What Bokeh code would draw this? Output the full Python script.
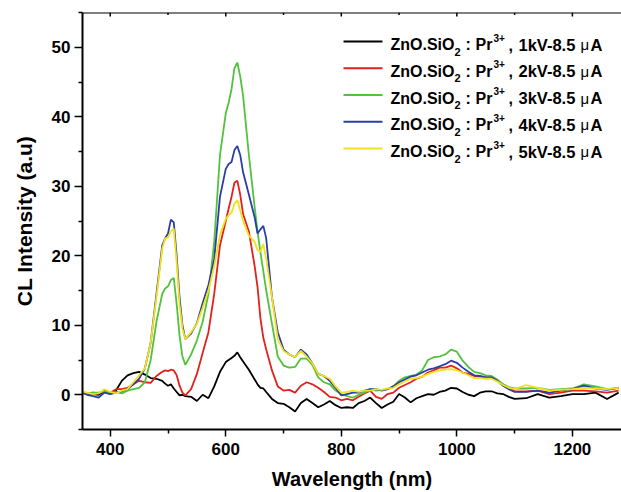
from bokeh.plotting import figure
from bokeh.models import Range1d, Label, FixedTicker, Span
from bokeh.embed import file_html
from bokeh.resources import INLINE

# ---------------- data ----------------
wavelength = [350, 360, 370, 380, 390, 400, 410, 420, 430, 440, 450, 460, 470, 480, 490,
              495, 500, 505, 510, 515, 520, 525, 530, 540, 550, 560, 570, 580, 590, 600,
              605, 610, 615, 620, 625, 630, 640, 650, 655, 660, 665, 670, 680, 690, 700,
              710, 720, 730, 740, 750, 760, 770, 780, 790, 800, 810, 820, 830, 840, 850,
              860, 870, 880, 890, 900, 910, 920, 930, 940, 950, 960, 970, 980, 990, 1000,
              1010, 1020, 1030, 1040, 1050, 1060, 1070, 1080, 1090, 1100, 1120, 1140, 1160,
              1180, 1200, 1220, 1240, 1260, 1280]

cl_1kV = [0.4, 0.2, 0.1, 0.0, 0.5, 0.2, 0.6, 2.0, 2.8, 3.1, 3.3, 2.9, 2.4, 2.3, 2.0,
          1.6, 1.3, 1.5, 0.9, 0.4, -0.1, 0.0, -0.2, -0.3, -0.9, 0.0, -0.5, 1.2, 3.3, 4.7,
          5.0, 5.3, 5.6, 6.1, 5.4, 4.8, 3.6, 2.2, 1.5, 1.0, 0.9, 0.4, -0.6, -1.2, -1.3,
          -1.8, -2.4, -1.2, -0.6, -1.2, -1.8, -1.4, -0.9, -1.5, -1.9, -1.8, -1.9, -1.2, -0.9, -0.4,
          -1.2, -1.9, -1.4, -1.0, 0.1, -0.4, -1.1, -0.5, -0.2, 0.1, 0.0, 0.4, 0.6, 1.0, 0.9,
          0.4, 0.0, -0.2, 0.3, 0.5, 0.5, 0.2, 0.1, -0.3, -0.6, -0.5, 0.1, -0.4,
          -0.2, 0.1, 0.1, 0.3, -0.6, 0.3]

cl_2kV = [0.3, 0.2, 0.3, 0.2, 0.6, 0.3, 0.8, 0.8, 1.0, 1.5, 2.0, 1.8, 1.7, 2.7, 3.3,
          3.5, 3.4, 3.6, 3.5, 2.8, 1.3, 0.3, -0.1, 0.8, 3.0, 6.0, 9.0, 14.5, 21.5, 25.0,
          26.8, 28.5, 30.5, 30.8, 28.8, 26.0, 23.5, 18.5, 15.5, 11.0, 8.2, 6.5, 3.5, 1.2, 0.6,
          0.7, 0.3, 1.3, 1.8, 1.5, 1.0, 0.4, -0.3, -0.4, -0.8, -0.6, -0.8, -0.3, 0.2, 0.6,
          -0.3, -0.6, 0.1, 0.3, 1.0, 1.4, 1.8, 2.3, 2.6, 3.2, 3.5, 3.9, 3.9, 4.2, 3.8,
          3.2, 3.0, 2.7, 2.6, 2.5, 2.5, 2.0, 1.5, 1.0, 0.5, 0.5, 0.6, 0.1,
          0.3, 0.6, 0.6, 0.5, 0.3, 0.6]

cl_3kV = [0.4, 0.2, 0.3, 0.3, 0.5, 0.2, 0.4, 0.2, 0.6, 0.8, 1.0, 1.8, 5.0, 10.5, 14.5,
          15.3, 15.6, 16.5, 16.8, 13.0, 8.5, 5.5, 4.3, 5.8, 7.8, 10.5, 14.5, 22.0, 34.5, 40.5,
          42.0, 44.0, 47.0, 47.8, 45.8, 43.0, 34.5, 27.0, 23.5, 20.5, 17.8, 15.0, 10.2, 5.5, 4.2,
          3.9, 4.0, 5.2, 5.2, 4.3, 2.5, 1.8, 1.5, 0.6, 0.1, -0.2, -0.4, 0.0, 0.3, 0.8,
          0.6, 0.7, 0.8, 1.2, 2.0, 2.5, 2.7, 2.9, 3.5, 5.0, 5.4, 5.5, 5.8, 6.5, 6.2,
          4.9, 4.0, 3.3, 3.1, 2.8, 2.7, 2.2, 1.5, 1.1, 0.9, 0.9, 1.0, 0.7,
          0.8, 0.9, 1.5, 1.2, 0.8, 1.0]

cl_4kV = [0.3, 0.0, -0.2, -0.4, 0.3, 0.1, 0.3, 0.5, 0.8, 1.5, 2.3, 3.8, 7.5, 14.5, 21.5,
          22.5, 23.2, 25.2, 24.8, 20.0, 14.0, 10.0, 8.0, 8.8, 10.3, 13.2, 15.8, 19.5, 28.5, 32.5,
          33.2, 33.5, 35.2, 35.8, 34.5, 32.0, 28.8, 25.5, 23.2, 23.8, 24.3, 22.5, 14.0, 9.0, 6.5,
          5.8, 5.4, 6.5, 5.8, 4.5, 3.0, 2.7, 2.0, 1.0, -0.1, 0.1, 0.3, 0.3, 0.6, 0.8,
          0.8, 0.6, 0.8, 1.2, 1.8, 2.2, 2.6, 2.8, 3.2, 3.6, 3.8, 4.1, 4.4, 4.9, 4.6,
          3.9, 3.3, 2.8, 2.7, 2.5, 2.5, 2.0, 1.3, 0.8, 0.4, 0.4, 0.6, 0.3,
          0.6, 0.8, 1.3, 0.9, 0.7, 1.0]

cl_5kV = [0.5, 0.3, 0.1, 0.2, 0.8, 0.4, 0.2, 0.6, 0.8, 1.8, 2.8, 3.8, 7.5, 14.0, 21.0,
          22.5, 22.6, 23.5, 23.9, 19.0, 13.0, 9.5, 8.0, 9.0, 10.2, 12.5, 15.0, 18.5, 23.0, 25.3,
          25.8, 26.2, 27.5, 28.0, 26.5, 25.0, 22.9, 22.0, 20.8, 20.6, 21.7, 19.5, 14.0, 8.0, 6.3,
          5.8, 5.4, 6.3, 5.5, 4.5, 3.0, 2.7, 2.3, 1.2, 0.3, 0.4, 0.6, 0.4, 0.6, 0.6,
          0.8, 0.7, 0.9, 1.0, 1.5, 1.9, 2.3, 2.4, 2.6, 3.0, 3.3, 3.5, 3.6, 3.7, 3.5,
          3.2, 2.8, 2.4, 2.4, 2.3, 2.3, 1.9, 1.4, 1.0, 0.8, 1.4, 1.0, 0.6,
          0.7, 0.8, 1.0, 0.9, 0.8, 1.0]

voltages = ["1kV", "2kV", "3kV", "4kV", "5kV"]
series = [cl_1kV, cl_2kV, cl_3kV, cl_4kV, cl_5kV]
colors = ["#000000", "#e3211c", "#52c23c", "#2a3ea6", "#f2e21c"]

x_ticks = [400, 600, 800, 1000, 1200]
x_minor = [500, 700, 900, 1100]
y_ticks = [0, 10, 20, 30, 40, 50]
y_minor = [-5, 5, 15, 25, 35, 45, 55]

# ---------------- layout ----------------
W, H = 621, 492
L, R, T, B = 82, 0, 12, 63
X0, X1 = 352, 1285
Y0, Y1 = -5, 55
FONT = "Liberation Sans"

p = figure(width=W, height=H, output_backend="svg", toolbar_location=None,
           x_range=Range1d(X0, X1), y_range=Range1d(Y0, Y1),
           min_border_left=L, min_border_right=R, min_border_top=T, min_border_bottom=B)
p.xgrid.visible = False
p.ygrid.visible = False
p.outline_line_color = None
p.background_fill_color = "white"
p.border_fill_color = "white"

for ax in (p.xaxis[0], p.yaxis[0]):
    ax.axis_line_width = 2
    ax.major_tick_line_width = 1.5
    ax.minor_tick_line_width = 1.5
    ax.major_label_text_font = FONT
    ax.major_label_text_font_style = "bold"
    ax.major_label_text_font_size = "17px"
    ax.major_label_text_color = "black"
    ax.axis_label_text_font = FONT
    ax.axis_label_text_font_style = "bold"
    ax.axis_label_text_color = "black"

p.xaxis.ticker = FixedTicker(ticks=x_ticks, minor_ticks=x_minor)
p.xaxis.major_tick_out = 7
p.xaxis.major_tick_in = 0
p.xaxis.minor_tick_out = 4
p.xaxis.minor_tick_in = 0
p.xaxis.major_label_standoff = 6
p.xaxis.axis_label = "Wavelength (nm)"
p.xaxis.axis_label_text_font_size = "20px"
p.xaxis.axis_label_standoff = 10

p.yaxis.ticker = FixedTicker(ticks=y_ticks, minor_ticks=y_minor)
p.yaxis.major_tick_out = 8
p.yaxis.major_tick_in = 0
p.yaxis.minor_tick_out = 4
p.yaxis.minor_tick_in = 0
p.yaxis.major_label_standoff = 4
p.yaxis.axis_label = "CL Intensity (a.u)"
p.yaxis.axis_label_text_font_size = "21px"
p.yaxis.axis_label_standoff = 13

# top frame line with small inward ticks
fw = W - L - R
fh = H - T - B
px_y = (Y1 - Y0) / fh
p.add_layout(Span(location=Y1, dimension="width", line_color="black", line_width=2))
p.segment(x0=x_ticks, y0=[Y1] * len(x_ticks), x1=x_ticks, y1=[Y1 - 4 * px_y] * len(x_ticks),
          line_color="black", line_width=1.5)
p.segment(x0=x_minor, y0=[Y1] * len(x_minor), x1=x_minor, y1=[Y1 - 2.5 * px_y] * len(x_minor),
          line_color="black", line_width=1.5)

for vals, col in zip(series, colors):
    p.line(wavelength, vals, line_color=col, line_width=1.8)

# ---------------- legend (rich text with sub/superscripts) ----------------


def dx(px):
    return X0 + (px - L) * (X1 - X0) / fw


def dy(py):
    return Y1 - (py - T) * (Y1 - Y0) / fh


row_gap = 26.75
for i, (v, col) in enumerate(zip(voltages, colors)):
    ly = 41 + i * row_gap
    base = ly + 3
    p.segment(x0=[dx(343)], y0=[dy(ly)], x1=[dx(382)], y1=[dy(ly)],
              line_color=col, line_width=2.2)
    pieces = [
        ("ZnO.SiO", 390, 0, "16px", "bold"),
        ("2", 454, 7, "11px", "bold"),
        (":", 465, 0, "16px", "bold"),
        ("Pr", 475, 0, "16px", "bold"),
        ("3+", 493, -7, "10px", "bold"),
        (",", 508, 0, "16px", "bold"),
        (v + "-8.5", 518, 0, "16.5px", "bold"),
        ("\u03bc", 580, 0, "15px", "normal"),
        ("A", 590, 0, "16.5px", "bold"),
    ]
    for txt, px, shift, size, style in pieces:
        p.add_layout(Label(x=dx(px), y=dy(base + shift), text=txt,
                           text_font=FONT, text_font_size=size, text_font_style=style,
                           text_color="black", text_align="left",
                           text_baseline="alphabetic"))

open("out.html", "w").write(file_html(p, INLINE))
